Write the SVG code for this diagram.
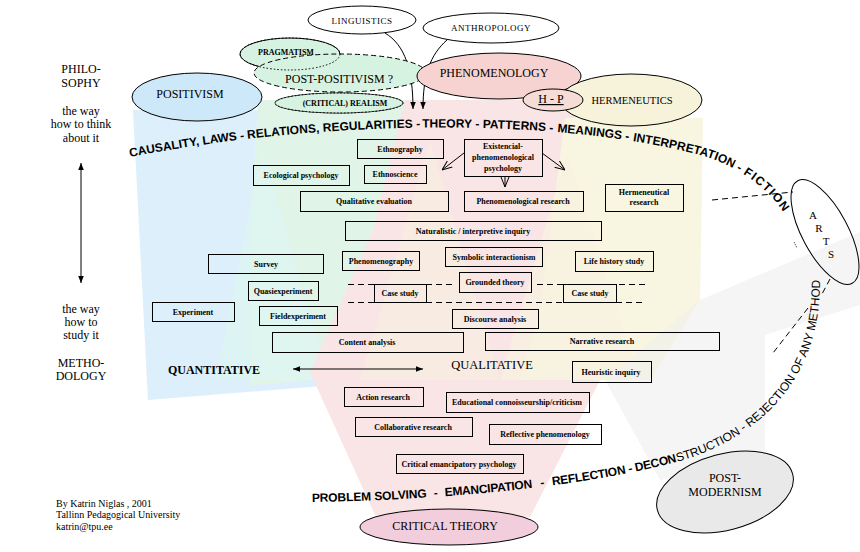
<svg xmlns="http://www.w3.org/2000/svg" width="860" height="552" viewBox="0 0 860 552">
<defs>
<style>
.bx{fill:none;stroke:#000;stroke-width:1}
.bt{font-family:"Liberation Serif",serif;font-size:8px;font-weight:bold;text-anchor:middle;fill:#000}
.el{stroke:#000;stroke-width:1}
.et{font-family:"Liberation Serif",serif;text-anchor:middle;fill:#000}
.side{font-family:"Liberation Serif",serif;font-size:12px;text-anchor:middle;fill:#000}
.arc{font-family:"Liberation Sans",Arial,sans-serif;font-size:12px;font-weight:bold;fill:#000}
.arcn{font-family:"Liberation Sans",Arial,sans-serif;font-size:12px;font-weight:normal;fill:#000}
.dash{stroke:#000;stroke-width:1;stroke-dasharray:6,4;fill:none}
.ln{stroke:#000;stroke-width:1;fill:none}
</style>
<marker id="tri" viewBox="0 0 10 10" refX="10" refY="5" markerWidth="7" markerHeight="7" markerUnits="userSpaceOnUse" orient="auto-start-reverse"><path d="M0,1 L10,5 L0,9 z" fill="#000"/></marker>
<marker id="vee" viewBox="0 0 10 10" refX="10" refY="5" markerWidth="10" markerHeight="10" markerUnits="userSpaceOnUse" orient="auto"><path d="M0,1 L10,5 L0,9" fill="none" stroke="#000" stroke-width="1"/></marker>
<path id="topArc" d="M130,157 C330,118 560,118 700,155 C740,166 770,190 786,216"/>
<path id="botArc" d="M312,502 C450,500 600,485 690,458 C770,430 822,370 820,278"/>
</defs>

<g id="background" opacity="0.6">
<polygon points="133,110 262,110 250,230 335,385 148,400" fill="#c6e5f8"/>
<polygon points="258,100 420,100 373,230 313,380 250,385 250,230" fill="#cdf0da"/>
<polygon points="262,148 330,380 215,380" fill="#c8f0ea" opacity="0.8"/>
<polygon points="405,100 580,100 560,300 600,380 530,517 375,515 310,372 373,230" fill="#f6d4d4"/>
<polygon points="430,140 500,380 360,380" fill="#f4e2cc" opacity="0.7"/>
<polygon points="565,118 703,118 700,300 650,380 520,380 540,310" fill="#f5efcc"/>
<polygon points="567,153 640,380 500,380" fill="#f4ebcc" opacity="0.7"/>
<polygon points="660,480 605,380 700,300 860,232 860,305 765,335 765,458" fill="#e6e6e6" opacity="0.6"/>
</g>

<g id="connectors">
<path class="ln" d="M385,33 C405,45 413,70 413,109" marker-end="url(#tri)"/>
<path class="ln" d="M447,40 C430,55 423,75 423,109" marker-end="url(#tri)"/>
<line class="ln" x1="464" y1="153" x2="442" y2="170" marker-end="url(#vee)"/>
<line class="ln" x1="542" y1="153" x2="565" y2="170" marker-end="url(#vee)"/>
<line class="ln" x1="505" y1="176" x2="505" y2="187" marker-end="url(#vee)"/>
<line class="ln" x1="81" y1="163" x2="81" y2="283" marker-start="url(#tri)" marker-end="url(#tri)"/>
<line class="ln" x1="293" y1="369" x2="423" y2="369" marker-start="url(#tri)" marker-end="url(#tri)"/>
<path class="dash" d="M348,284.5 H374 M426,284.5 H453 M537,284.5 H563 M619,284.5 H645"/>
<path class="dash" d="M348,302.5 H374 M426,302.5 H563 M616,302.5 H645"/>
<path class="dash" d="M712,200 L793,192"/>
<path class="dash" stroke-dasharray="4,3" d="M830,279 L822,294 M808,308 L773,353"/>
</g>

<g id="node-linguistics"><ellipse class="el" cx="362" cy="20" rx="54" ry="14" fill="#fff"/><text class="et" x="362" y="24" font-size="9" letter-spacing="0.5">LINGUISTICS</text></g>
<g id="node-anthropology"><ellipse class="el" cx="491" cy="28" rx="68" ry="15" fill="#fff"/><text class="et" x="491" y="31" font-size="9" letter-spacing="0.5">ANTHROPOLOGY</text></g>
<g id="node-positivism"><ellipse class="el" cx="197" cy="97" rx="65" ry="24" fill="#cde9f9"/><text class="et" x="190" y="98" font-size="12">POSITIVISM</text></g>
<g id="node-pragmatism"><ellipse class="el" cx="290" cy="54" rx="50" ry="16" fill="#d6f2e0"/></g>
<g id="node-realism-base"><ellipse class="el" cx="339" cy="103" rx="64" ry="10" fill="#d6f2e0"/></g>
<g id="node-postpositivism"><ellipse class="el" cx="340" cy="73" rx="86" ry="19" fill="#d6f3e1" stroke-dasharray="5,3"/>
<ellipse cx="290" cy="54" rx="50" ry="16" fill="none" stroke="#000" stroke-dasharray="1.5,2"/>
<ellipse cx="339" cy="103" rx="64" ry="10" fill="#d6f2e0" stroke="none" opacity="0.6"/>
<ellipse cx="339" cy="103" rx="64" ry="10" fill="none" stroke="#000" stroke-dasharray="1.5,2"/>
<text class="et" x="286" y="55" font-size="8" font-weight="bold">PRAGMATISM</text>
<text class="et" x="339" y="83" font-size="12">POST-POSITIVISM ?</text>
<text class="et" x="345" y="106" font-size="8" font-weight="bold">(CRITICAL) REALISM</text></g>
<g id="node-phenomenology"><ellipse class="el" cx="499" cy="76" rx="82" ry="23" fill="#f6d3d0"/><text class="et" x="494" y="77" font-size="12">PHENOMENOLOGY</text></g>
<g id="node-hermeneutics"><ellipse class="el" cx="631" cy="100" rx="71" ry="26" fill="#f7f2da"/><text class="et" x="632" y="104" font-size="10.5">HERMENEUTICS</text></g>
<g id="node-hp"><ellipse class="el" cx="553" cy="100" rx="30" ry="11" fill="#f5ddd6"/><text class="et" x="551" y="103" font-size="12" fill="#5a1010" text-decoration="underline">H - P</text></g>
<g id="node-arts"><ellipse class="el" cx="825" cy="232" rx="58" ry="23" transform="rotate(62 825 232)" fill="none"/>
<text class="et" font-size="11" x="813" y="219">A</text><text class="et" font-size="11" x="819" y="232">R</text><text class="et" font-size="11" x="826" y="245">T</text><text class="et" font-size="11" x="831" y="258">S</text>
<text class="et" font-size="9" x="0" y="0" transform="translate(795,245) rotate(62)">...</text></g>
<g id="node-postmodernism"><ellipse class="el" cx="725" cy="492" rx="70" ry="38" transform="rotate(-15 725 492)" fill="#e9e9e9"/><text class="et" x="725" y="482" font-size="12">POST-</text><text class="et" x="725" y="496" font-size="12">MODERNISM</text></g>
<g id="node-criticaltheory"><ellipse class="el" cx="449" cy="527" rx="89" ry="18" fill="#f2cedd"/><text class="et" x="445" y="530" font-size="12">CRITICAL THEORY</text></g>

<g id="node-ethnography"><rect class="bx" x="357.5" y="139.5" width="86" height="19"/><text class="bt" x="400" y="152">Ethnography</text></g>
<g id="node-existencial"><rect class="bx" x="464.5" y="139.5" width="78" height="37"/><text class="bt" x="503" y="149">Existencial-</text><text class="bt" x="503" y="160">phenomenological</text><text class="bt" x="503" y="171">psychology</text></g>
<g id="node-ethnoscience"><rect class="bx" x="364.5" y="165.5" width="62" height="18"/><text class="bt" x="395" y="177">Ethnoscience</text></g>
<g id="node-ecological"><rect class="bx" x="253.5" y="165.5" width="96" height="20"/><text class="bt" x="301" y="178">Ecological psychology</text></g>
<g id="node-qualeval"><rect class="bx" x="300.5" y="191.5" width="148" height="20"/><text class="bt" x="374" y="204">Qualitative evaluation</text></g>
<g id="node-phenresearch"><rect class="bx" x="464.5" y="191.5" width="119" height="20"/><text class="bt" x="523" y="204">Phenomenological research</text></g>
<g id="node-hermresearch"><rect class="bx" x="605.5" y="184.5" width="78" height="27"/><text class="bt" x="644" y="195">Hermeneutical</text><text class="bt" x="644" y="205">research</text></g>
<g id="node-naturalistic"><rect class="bx" x="345.5" y="221.5" width="256" height="19"/><text class="bt" x="473" y="234">Naturalistic / interpretive  inquiry</text></g>
<g id="node-survey"><rect class="bx" x="208.5" y="254.5" width="115" height="19"/><text class="bt" x="266" y="267">Survey</text></g>
<g id="node-phenomenography"><rect class="bx" x="342.5" y="251.5" width="77" height="19"/><text class="bt" x="381" y="264">Phenomenography</text></g>
<g id="node-symbolic"><rect class="bx" x="445.5" y="247.5" width="97" height="19"/><text class="bt" x="494" y="260">Symbolic interactionism</text></g>
<g id="node-lifehistory"><rect class="bx" x="575.5" y="251.5" width="78" height="20"/><text class="bt" x="614" y="264">Life history study</text></g>
<g id="node-grounded"><rect class="bx" x="459.5" y="272.5" width="72" height="20"/><text class="bt" x="495" y="285">Grounded theory</text></g>
<g id="node-casestudy1"><rect class="bx" x="374.5" y="284.5" width="52" height="18"/><text class="bt" x="400" y="296">Case study</text></g>
<g id="node-casestudy2"><rect class="bx" x="563.5" y="284.5" width="53" height="18"/><text class="bt" x="590" y="296">Case study</text></g>
<g id="node-quasi"><rect class="bx" x="248.5" y="281.5" width="70" height="19"/><text class="bt" x="283" y="294">Quasiexperiment</text></g>
<g id="node-experiment"><rect class="bx" x="152.5" y="302.5" width="82" height="19"/><text class="bt" x="193" y="315">Experiment</text></g>
<g id="node-field"><rect class="bx" x="259.5" y="306.5" width="78" height="19"/><text class="bt" x="298" y="319">Fieldexperiment</text></g>
<g id="node-discourse"><rect class="bx" x="452.5" y="309.5" width="86" height="19"/><text class="bt" x="495" y="322">Discourse analysis</text></g>
<g id="node-content"><rect class="bx" x="272.5" y="332.5" width="191" height="20"/><text class="bt" x="367" y="345">Content analysis</text></g>
<g id="node-narrative"><rect class="bx" x="485.5" y="332.5" width="234" height="18"/><text class="bt" x="602" y="344">Narrative research</text></g>
<g id="node-heuristic"><rect class="bx" x="572.5" y="361.5" width="79" height="21"/><text class="bt" x="611" y="375">Heuristic inquiry</text></g>
<g id="node-action"><rect class="bx" x="344.5" y="387.5" width="79" height="19"/><text class="bt" x="383" y="400">Action research</text></g>
<g id="node-educational"><rect class="bx" x="446.5" y="392.5" width="143" height="20"/><text class="bt" x="517" y="405">Educational connoisseurship/criticism</text></g>
<g id="node-collaborative"><rect class="bx" x="355.5" y="417.5" width="117" height="19"/><text class="bt" x="413" y="430">Collaborative research</text></g>
<g id="node-reflective"><rect class="bx" x="489.5" y="424.5" width="112" height="20"/><text class="bt" x="545" y="437">Reflective phenomenology</text></g>
<g id="node-critemancip"><rect class="bx" x="396.5" y="454.5" width="127" height="19"/><text class="bt" x="459" y="467">Critical emancipatory psychology</text></g>

<g id="labels">
<text class="et" x="214" y="374" font-size="12" font-weight="bold">QUANTITATIVE</text>
<text class="et" x="492" y="369" font-size="12.5">QUALITATIVE</text>
<text class="side" x="81" y="73">PHILO-</text>
<text class="side" x="81" y="87">SOPHY</text>
<text class="side" x="81" y="115">the way</text>
<text class="side" x="81" y="128">how to think</text>
<text class="side" x="81" y="142">about it</text>
<text class="side" x="81" y="313">the way</text>
<text class="side" x="81" y="326">how to</text>
<text class="side" x="81" y="339">study it</text>
<text class="side" x="81" y="367">METHO-</text>
<text class="side" x="81" y="380">DOLOGY</text>
<text font-family="Liberation Serif,serif" font-size="10" x="56" y="507">By Katrin Niglas , 2001</text>
<text font-family="Liberation Serif,serif" font-size="10" x="56" y="518">Tallinn Pedagogical University</text>
<text font-family="Liberation Serif,serif" font-size="10" x="56" y="530">katrin@tpu.ee</text>
</g>

<g id="arc-texts">
<text class="arc"><textPath href="#topArc" startOffset="0" textLength="116" lengthAdjust="spacing">CAUSALITY, LAWS -</textPath></text>
<text class="arc"><textPath href="#topArc" startOffset="119" textLength="173" lengthAdjust="spacing">RELATIONS, REGULARITIES -</textPath></text>
<text class="arc"><textPath href="#topArc" startOffset="294" textLength="131" lengthAdjust="spacing">THEORY - PATTERNS -</textPath></text>
<text class="arc"><textPath href="#topArc" startOffset="429" textLength="72" lengthAdjust="spacing">MEANINGS -</textPath></text>
<text class="arc"><textPath href="#topArc" startOffset="505" textLength="112" lengthAdjust="spacing">INTERPRETATION -</textPath></text>
<text class="arc"><textPath href="#topArc" startOffset="621" textLength="56" lengthAdjust="spacing">FICTION</textPath></text>
<text class="arc"><textPath href="#botArc" startOffset="0" textLength="115" lengthAdjust="spacing">PROBLEM SOLVING</textPath></text>
<text class="arc"><textPath href="#botArc" startOffset="122">-</textPath></text>
<text class="arc"><textPath href="#botArc" startOffset="133" textLength="88" lengthAdjust="spacing">EMANCIPATION</textPath></text>
<text class="arc"><textPath href="#botArc" startOffset="229">-</textPath></text>
<text class="arc"><textPath href="#botArc" startOffset="241" textLength="127" lengthAdjust="spacing">REFLECTION - DECON</textPath></text>
<text class="arcn"><textPath href="#botArc" startOffset="368" textLength="251" lengthAdjust="spacing">STRUCTION - REJECTION OF ANY METHOD</textPath></text>
</g>
</svg>
